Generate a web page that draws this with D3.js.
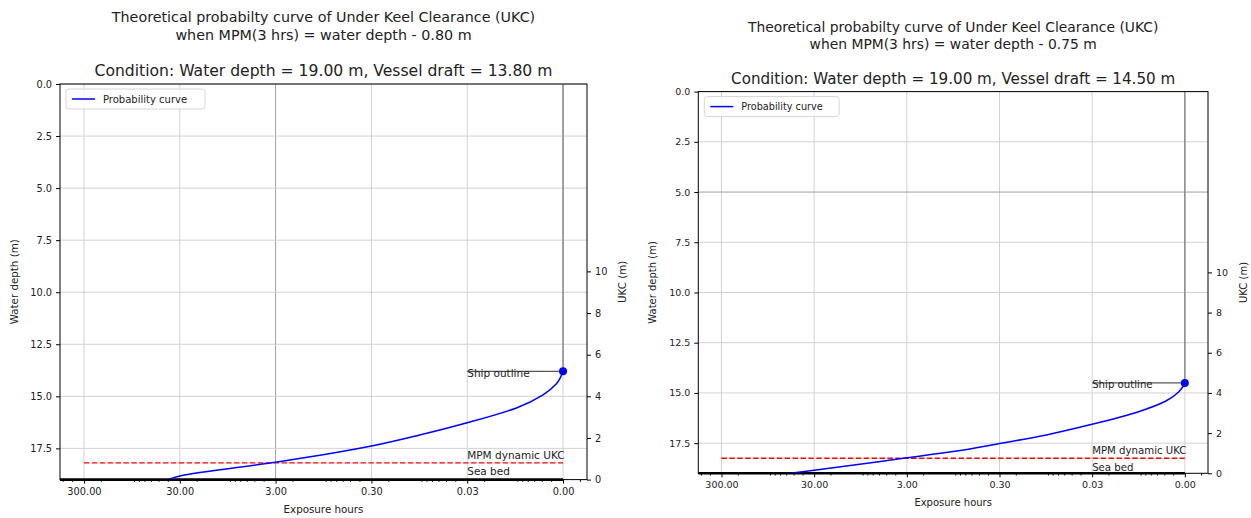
<!DOCTYPE html>
<html>
<head>
<meta charset="utf-8">
<script src="https://cdn.jsdelivr.net/npm/d3@7"></script>
<style>
  body { margin: 0; background: #fff; }
  svg text { font-family: "DejaVu Sans", sans-serif; fill: #222; }
</style>
</head>
<body>
<svg id="chart" width="1251" height="518"></svg>
<script>
// Tick values shared by both panels
var hourTicks = [300, 30, 3, 0.3, 0.03, 0.003]
var depthTicks = [0, 2.5, 5, 7.5, 10, 12.5, 15, 17.5]
var ukcTicks = [0, 2, 4, 6, 8, 10]

// Left panel: draft 13.80 m, MPM margin 0.80 m
var leftHours = [39.8, 30, 3, 0.96, 0.3, 0.094, 0.03, 0.0092, 0.00485, 0.00352, 0.003]
var leftDepth = [19, 18.83, 18.17, 17.81, 17.39, 16.86, 16.27, 15.56, 14.93, 14.4, 13.8]

// Right panel: draft 14.50 m, MPM margin 0.75 m
var rightHours = [54, 30, 3, 0.95, 0.3, 0.0935, 0.03, 0.0093, 0.0048, 0.00345, 0.003]
var rightDepth = [19, 18.85, 18.23, 17.92, 17.52, 17.09, 16.56, 15.92, 15.4, 14.93, 14.5]

var waterDepth = 19
var shipHours = 0.003
var labelHours = 0.03

var svg = d3.select("#chart")

function drawPanel(p) {
  var g = svg.append("g")

  // log x axis, reversed, with matplotlib-like quarter decade margin
  var x = d3.scaleLog()
      .domain([300 * Math.pow(10, 0.25), 0.003 / Math.pow(10, 0.25)])
      .range([p.x0, p.x1])
  var y = d3.scaleLinear().domain([0, waterDepth]).range([p.y0, p.y1])
  var yUkc = d3.scaleLinear().domain([0, waterDepth]).range([p.y1, p.y0])

  // titles
  g.append("text").attr("x", (p.x0 + p.x1) / 2).attr("y", p.t1)
      .attr("text-anchor", "middle").style("font-size", p.fs * 14.3 + "px")
      .text("Theoretical probabilty curve of Under Keel Clearance (UKC)")
  g.append("text").attr("x", (p.x0 + p.x1) / 2).attr("y", p.t1 + 18 * p.fs)
      .attr("text-anchor", "middle").style("font-size", p.fs * 14.3 + "px")
      .text("when MPM(3 hrs) = water depth - " + p.mpm.toFixed(2) + " m")
  g.append("text").attr("x", (p.x0 + p.x1) / 2).attr("y", p.t1 + 54 * p.fs)
      .attr("text-anchor", "middle").style("font-size", p.fs * 15.6 + "px")
      .text("Condition: Water depth = " + waterDepth.toFixed(2) + " m, Vessel draft = " + p.draft.toFixed(2) + " m")

  // grid
  g.selectAll(".gx").data(hourTicks).enter().append("line")
      .attr("x1", d => x(d)).attr("x2", d => x(d))
      .attr("y1", p.y0).attr("y2", p.y1)
      .attr("stroke", d => d === p.darkX ? "#a0a0a0" : "#d2d2d2").attr("stroke-width", 1)
  g.selectAll(".gy").data(depthTicks).enter().append("line")
      .attr("x1", p.x0).attr("x2", p.x1)
      .attr("y1", d => y(d)).attr("y2", d => y(d))
      .attr("stroke", d => d === p.darkY ? "#a0a0a0" : "#d2d2d2").attr("stroke-width", 1)

  // ship outline lines
  var shipY = y(p.draft)
  g.append("line").attr("x1", x(shipHours)).attr("x2", x(shipHours))
      .attr("y1", p.y0).attr("y2", shipY).attr("stroke", "#8a8a8a").attr("stroke-width", 1.5)
  g.append("line").attr("x1", x(labelHours)).attr("x2", x(shipHours))
      .attr("y1", shipY).attr("y2", shipY).attr("stroke", "#555").attr("stroke-width", 1.2)

  // MPM dynamic UKC
  var mpmY = y(waterDepth - p.mpm)
  g.append("line").attr("x1", x(300)).attr("x2", x(shipHours))
      .attr("y1", mpmY).attr("y2", mpmY)
      .attr("stroke", "#ff0000").attr("stroke-width", 1.3).attr("stroke-dasharray", "5.5,2.4")

  // sea bed
  g.append("line").attr("x1", p.x0).attr("x2", x(shipHours))
      .attr("y1", p.y1).attr("y2", p.y1).attr("stroke", "#000").attr("stroke-width", 2.6)

  // probability curve, interpolated along depth so the top turns vertical
  var pts = p.hours.map((h, i) => [h, p.depth[i]]).reverse()
  var line = d3.line().x(d => x(d[0])).y(d => y(d[1])).curve(d3.curveMonotoneY)
  g.append("path").datum(pts).attr("d", line)
      .attr("fill", "none").attr("stroke", "#0000ff").attr("stroke-width", 1.5)
  g.append("circle").attr("cx", x(shipHours)).attr("cy", shipY).attr("r", 4).attr("fill", "#0000ff")

  // annotations
  var af = p.fs * 10.5 + "px"
  g.append("text").attr("x", x(labelHours)).attr("y", shipY + 5.5)
      .style("font-size", af).text("Ship outline")
  g.append("text").attr("x", x(labelHours)).attr("y", mpmY - 4)
      .style("font-size", af).text("MPM dynamic UKC")
  g.append("text").attr("x", x(labelHours)).attr("y", mpmY + 12.5)
      .style("font-size", af).text("Sea bed")

  // frame
  g.append("rect").attr("x", p.x0).attr("y", p.y0)
      .attr("width", p.x1 - p.x0).attr("height", p.y1 - p.y0)
      .attr("fill", "none").attr("stroke", "#000").attr("stroke-width", 1)

  // axes
  var tf = p.fs * 9.8 + "px"
  var minor = []
  for (var e = -3; e <= 2; e++) {
    for (var k = 2; k <= 9; k++) {
      var v = k * Math.pow(10, e)
      if (v <= x.domain()[0] && v >= x.domain()[1] && hourTicks.indexOf(+v.toPrecision(6)) < 0) minor.push(v)
    }
  }
  var xAxis = g.append("g").attr("transform", "translate(0," + p.y1 + ")")
      .call(d3.axisBottom(x).tickValues(hourTicks).tickFormat(d3.format(".2f")).tickSize(4).tickPadding(4))
  xAxis.select(".domain").remove()
  xAxis.selectAll("text").style("font-size", tf).style("font-family", "DejaVu Sans")
  g.append("g").attr("transform", "translate(0," + p.y1 + ")")
      .call(d3.axisBottom(x).tickValues(minor).tickFormat("").tickSize(2.2))
      .select(".domain").remove()

  var yAxis = g.append("g").attr("transform", "translate(" + p.x0 + ",0)")
      .call(d3.axisLeft(y).tickValues(depthTicks).tickFormat(d3.format(".1f")).tickSize(4).tickPadding(4))
  yAxis.select(".domain").remove()
  yAxis.selectAll("text").style("font-size", tf).style("font-family", "DejaVu Sans")

  var rAxis = g.append("g").attr("transform", "translate(" + p.x1 + ",0)")
      .call(d3.axisRight(yUkc).tickValues(ukcTicks).tickSize(4).tickPadding(4))
  rAxis.select(".domain").remove()
  rAxis.selectAll("text").style("font-size", tf).style("font-family", "DejaVu Sans")

  var lf = p.fs * 10.3 + "px"
  g.append("text").attr("x", (p.x0 + p.x1) / 2).attr("y", p.y1 + 33)
      .attr("text-anchor", "middle").style("font-size", lf).text("Exposure hours")
  g.append("text").attr("transform", "translate(" + (p.x0 - 42) + "," + (p.y0 + p.y1) / 2 + ") rotate(-90)")
      .attr("text-anchor", "middle").style("font-size", lf).text("Water depth (m)")
  g.append("text").attr("transform", "translate(" + (p.x1 + 39) + "," + (p.y0 + p.y1) / 2 + ") rotate(-90)")
      .attr("text-anchor", "middle").style("font-size", lf).text("UKC (m)")

  // legend
  var lg = g.append("g").attr("transform", "translate(" + (p.x0 + 6) + "," + (p.y0 + 5) + ")")
  lg.append("rect").attr("width", 139 * p.fs).attr("height", 20).attr("rx", 3)
      .attr("fill", "#fff").attr("fill-opacity", 0.8).attr("stroke", "#d6d6d6")
  lg.append("line").attr("x1", 6).attr("x2", 29).attr("y1", 10).attr("y2", 10)
      .attr("stroke", "#0000ff").attr("stroke-width", 1.5)
  lg.append("text").attr("x", 37).attr("y", 13.5).style("font-size", p.fs * 10 + "px")
      .text("Probability curve")
}

drawPanel({
  x0: 60, x1: 587, y0: 84, y1: 479.6, t1: 22, fs: 1,
  hours: leftHours, depth: leftDepth, draft: 13.8, mpm: 0.8, darkX: 3
})
drawPanel({
  x0: 698.3, x1: 1208, y0: 91.6, y1: 473.3, t1: 32, fs: 0.97,
  hours: rightHours, depth: rightDepth, draft: 14.5, mpm: 0.75, darkY: 5
})
</script>
</body>
</html>
